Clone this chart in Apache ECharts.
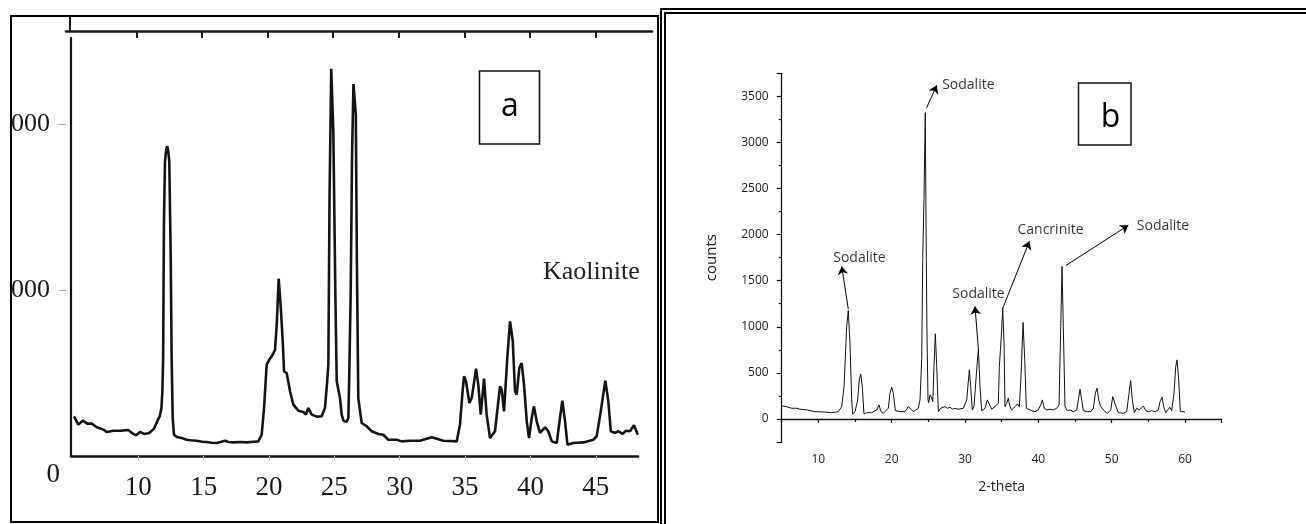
<!DOCTYPE html>
<html><head><meta charset="utf-8">
<script src="https://cdn.jsdelivr.net/npm/echarts@6/dist/echarts.min.js"></script>
<style>
html,body{margin:0;padding:0;width:1306px;height:524px;overflow:hidden;background:#fff;position:relative}
#boxA{position:absolute;left:10px;top:15px;width:649px;height:508px;border:2px solid #000;box-sizing:border-box;overflow:hidden;background:#fff}
#chartA{position:absolute;left:-12px;top:-17px;width:1306px;height:524px}
#boxB{position:absolute;left:660px;top:8px;width:700px;height:600px;border:6px double #000;box-sizing:border-box}
#chartB{position:absolute;left:0;top:0;width:1306px;height:524px}
</style></head><body>
<div id="boxA"><div id="chartA"></div></div>
<div id="boxB"></div>
<div id="chartB"></div>
<script>
// ---------- Panel a : Kaolinite ----------
const kaoTheta = [5.08,5.41,5.75,6.1,6.43,6.82,7.34,7.58,8.09,8.6,9.23,9.62,9.82,10.13,10.44,10.84,11.2,11.45,11.64,11.77,11.84,11.9,11.93,11.96,12.04,12.14,12.22,12.3,12.37,12.44,12.48,12.55,12.63,12.73,12.94,13.32,13.7,14.0,14.47,14.9,15.23,15.6,16.0,16.3,16.63,16.9,17.27,17.8,18.29,18.8,19.18,19.44,19.62,19.82,20.02,20.28,20.46,20.59,20.74,20.9,21.05,21.15,21.35,21.61,21.86,22.24,22.62,22.83,23.01,23.27,23.65,24.03,24.28,24.45,24.54,24.63,24.76,24.92,25.08,25.18,25.43,25.56,25.69,25.94,26.07,26.14,26.25,26.35,26.46,26.55,26.64,26.72,26.83,27.09,27.47,27.86,28.36,28.75,29.13,29.77,30.15,30.79,31.55,32.45,33.34,34.36,34.61,34.82,34.92,35.07,35.33,35.51,35.84,36.01,36.2,36.45,36.65,36.91,37.29,37.67,37.8,37.98,38.23,38.44,38.65,38.82,38.95,39.15,39.33,39.51,39.72,39.89,40.1,40.27,40.48,40.73,41.12,41.37,41.63,42.01,42.26,42.44,42.65,42.83,43.28,44.05,44.81,45.07,45.38,45.73,45.96,46.15,46.47,46.73,47.06,47.31,47.62,47.92,48.22];
const kaoCounts = [239,189,213,195,195,173,159,145,152,152,157,133,125,145,133,139,165,209,240,289,390,590,1000,1400,1775,1850,1866,1830,1775,1400,1193,590,229,128,114,108,98,95,92,86,84,80,78,84,92,84,82,84,82,86,88,128,289,550,580,610,640,791,1068,892,691,510,500,390,309,273,265,249,289,249,237,239,289,450,550,1554,2333,1956,952,450,349,249,213,205,229,490,992,1800,2240,2150,2056,1193,349,199,179,149,133,128,98,98,88,92,92,113,92,88,189,400,480,450,319,349,526,430,249,466,249,108,149,420,400,269,590,811,691,390,369,530,560,430,209,108,229,299,209,139,173,149,88,78,229,333,209,68,78,82,98,119,269,454,329,149,139,149,133,152,149,185,128];
const kaoXLabels = [10,15,20,25,30,35,40,45];
const kaoYLabels = [1000,2000];
const kaoZeroLabel = [0];

// ---------- Panel b : Sodalite ----------
const sodTheta = [5,5.59,6.36,7.05,7.5,8.41,9.54,10.68,11.82,12.72,13.18,13.5,13.86,14.08,14.31,14.55,14.68,15,15.36,15.58,15.77,15.99,16.22,16.59,17.27,17.95,18.27,18.54,18.86,19.54,19.77,20,20.22,20.5,21.13,21.81,22.27,22.5,22.95,23.63,23.86,24.09,24.23,24.4,24.58,24.66,24.72,24.8,24.95,25.05,25.22,25.41,25.6,25.77,25.95,26.14,26.36,26.68,27.27,27.59,27.95,28.32,28.63,29.09,29.77,30.23,30.59,30.77,30.99,31.22,31.59,31.82,32.04,32.27,32.72,33.04,33.31,33.64,34.09,34.54,34.68,34.95,35.14,35.32,35.45,35.68,35.9,36.13,36.36,36.82,37.13,37.4,37.63,37.91,38.14,38.36,38.63,39.09,39.54,39.99,40.32,40.54,40.81,41.14,41.59,42.04,42.5,42.82,43.05,43.23,43.4,43.63,43.95,44.32,44.77,45.23,45.45,45.68,45.91,46.13,46.68,47.14,47.5,47.77,48.0,48.23,48.5,48.77,49.09,49.41,49.87,50.14,50.36,50.59,50.9,51.59,52.05,52.36,52.59,52.81,53.09,53.41,53.77,54.04,54.31,54.64,54.99,55.45,55.91,56.36,56.59,56.86,57.09,57.36,57.64,57.91,58.18,58.5,58.73,58.91,59.14,59.36,59.68,60];
const sodCounts = [141,134,116,116,105,98,79,76,68,79,134,351,1003,1177,823,207,54,79,207,424,489,351,54,68,68,98,152,79,62,116,279,345,279,90,79,79,134,116,79,116,207,641,1728,2380,3323,2400,1728,1000,207,177,261,236,188,568,924,568,79,116,134,116,127,105,116,105,116,207,533,351,98,134,533,758,351,90,116,207,207,105,134,170,568,900,1195,823,134,170,225,134,98,134,163,134,460,1047,641,116,105,90,79,98,152,207,116,98,105,98,116,152,1003,1655,1003,134,90,98,79,98,207,323,207,90,79,79,116,279,333,207,134,152,79,62,98,242,261,134,68,62,79,279,416,207,68,116,98,116,141,90,79,90,79,98,188,236,134,68,98,127,90,279,568,641,424,79,79,76];
const sodXLabels = [10,20,30,40,50,60];
const sodYLabels = [0,500,1000,1500,2000,2500,3000,3500];
const annNames = ['Sodalite','Sodalite','Sodalite','Cancrinite','Sodalite'];
const annFrom  = [[14.08,1192],[24.77,3377],[31.82,758],[35.1,1192],[43.77,1666]];
const annTo    = [[13.18,1655],[26.14,3620],[31.36,1221],[38.77,1927],[52.27,2101]];
const annText  = [[15.6,1747],[30.45,3623],[31.84,1355],[41.66,2047],[57.0,2090]];

const serifA = '"Liberation Serif", "Times New Roman", serif';
const sansB = '"Open Sans", "Noto Sans", sans-serif';
const plain = v => String(v);

// ---------- Chart A ----------
const chartA = echarts.init(document.getElementById('chartA'));
chartA.setOption({
  animation: false,
  grid: [
    {left: 71, top: 38, width: 567, height: 418, outerBoundsMode: 'none', containLabel: false},
    {left: 66, top: 15, width: 586, height: 16, outerBoundsMode: 'none', containLabel: false}
  ],
  xAxis: [
    {gridIndex: 0, type: 'value', min: 4.85, max: 48.23,
     axisLine: {show: true, lineStyle: {color: '#111', width: 2.6}},
     axisTick: {show: true, customValues: kaoXLabels, length: 4, lineStyle: {color: '#bbb', width: 1}},
     axisLabel: {show: true, customValues: kaoXLabels, formatter: plain, fontFamily: serifA, fontSize: 27, color: '#1a1a1a', margin: 18},
     splitLine: {show: false}},
    {gridIndex: 1, type: 'value', min: 4.646, max: 49.28,
     axisLine: {show: true, lineStyle: {color: '#1a1a1a', width: 2.6}},
     axisTick: {show: true, customValues: kaoXLabels, length: 7, lineStyle: {color: '#1a1a1a', width: 2}},
     axisLabel: {show: false}, splitLine: {show: false}}
  ],
  yAxis: [
    {gridIndex: 0, type: 'value', min: 0, max: 2518,
     axisLine: {show: true, lineStyle: {color: '#111', width: 2.2}},
     axisTick: {show: false}, axisLabel: {show: false}, splitLine: {show: false}},
    {gridIndex: 0, type: 'value', min: 0, max: 2518, position: 'left', offset: 5,
     axisLine: {show: false},
     axisTick: {show: true, customValues: kaoYLabels, length: 7, lineStyle: {color: '#aaa', width: 1}},
     axisLabel: {show: true, customValues: kaoYLabels, formatter: plain, fontFamily: serifA, fontSize: 26, color: '#1a1a1a', margin: 16},
     splitLine: {show: false}},
    {gridIndex: 0, type: 'value', min: 0, max: 2518, position: 'left', offset: 5,
     axisLine: {show: false}, axisTick: {show: false},
     axisLabel: {show: true, customValues: kaoZeroLabel, formatter: plain, fontFamily: serifA, fontSize: 27, color: '#1a1a1a', margin: 6, verticalAlign: 'top', padding: [5, 0, 0, 0]},
     splitLine: {show: false}},
    {gridIndex: 1, type: 'value', min: 0, max: 1, offset: -4,
     axisLine: {show: true, lineStyle: {color: '#1a1a1a', width: 2}},
     axisTick: {show: false}, axisLabel: {show: false}, splitLine: {show: false}}
  ],
  series: [
    {type: 'line', xAxisIndex: 0, yAxisIndex: 0, symbol: 'none', showSymbol: false,
     data: kaoTheta.map((t, i) => [t, kaoCounts[i]]),
     lineStyle: {color: '#141414', width: 2.6}}
  ],
  graphic: [
    {type: 'rect', shape: {x: 479.5, y: 71, width: 60, height: 73}, style: {fill: '#fff', stroke: '#111', lineWidth: 1.6}},
    {type: 'text', x: 510, y: 107, style: {text: 'a', fontFamily: sansB, fontSize: 32, fill: '#000', align: 'center', verticalAlign: 'middle'}},
    {type: 'text', x: 543, y: 272, style: {text: 'Kaolinite', fontFamily: serifA, fontSize: 26, fill: '#222', align: 'left', verticalAlign: 'middle'}}
  ]
});

// ---------- Chart B ----------
const chartB = echarts.init(document.getElementById('chartB'));
chartB.setOption({
  animation: false,
  grid: {left: 781.7, top: 73.3, width: 440, height: 368.7, outerBoundsMode: 'none', containLabel: false},
  xAxis: {type: 'value', min: 5, max: 65, splitNumber: 6,
    axisLine: {show: true, lineStyle: {color: '#111', width: 1.3}},
    axisTick: {show: true, length: 4, lineStyle: {color: '#111', width: 1.2}},
    minorTick: {show: true, splitNumber: 2, length: 3, lineStyle: {color: '#111', width: 1.2}},
    axisLabel: {show: true, customValues: sodXLabels, formatter: plain, fontFamily: sansB, fontSize: 12, color: '#222', margin: 12},
    splitLine: {show: false}, minorSplitLine: {show: false},
    name: '2-theta', nameLocation: 'middle', nameGap: 38,
    nameTextStyle: {fontFamily: sansB, fontSize: 14, color: '#222'}},
  yAxis: {type: 'value', min: -250, max: 3750, splitNumber: 8,
    axisLine: {show: true, lineStyle: {color: '#111', width: 1.3}},
    axisTick: {show: true, length: 5, lineStyle: {color: '#111', width: 1.2}},
    minorTick: {show: true, splitNumber: 2, length: 3, lineStyle: {color: '#111', width: 1.2}},
    axisLabel: {show: true, customValues: sodYLabels, formatter: plain, fontFamily: sansB, fontSize: 12, color: '#222', margin: 13},
    splitLine: {show: false}, minorSplitLine: {show: false},
    name: 'counts', nameLocation: 'middle', nameGap: 62, nameRotate: 90,
    nameTextStyle: {fontFamily: sansB, fontSize: 15, color: '#222'}},
  series: [
    {type: 'line', symbol: 'none', showSymbol: false,
     data: sodTheta.map((t, i) => [t, sodCounts[i]]),
     lineStyle: {color: '#111', width: 1},
     markLine: {silent: true, animation: false, symbol: ['none', 'arrow'], symbolSize: 8,
       lineStyle: {color: '#000', width: 1, type: 'solid'}, label: {show: false},
       emphasis: {disabled: true},
       data: annFrom.map((f, i) => [{coord: f}, {coord: annTo[i]}])}},
    {type: 'scatter', symbolSize: 1, silent: true,
     data: annText.map((p, i) => ({value: p, name: annNames[i]})),
     itemStyle: {color: 'rgba(0,0,0,0)'},
     labelLayout: {hideOverlap: false},
     label: {show: true, position: 'inside', formatter: p => p.name, color: '#000', fontFamily: sansB, fontSize: 14}}
  ],
  graphic: [
    {type: 'rect', shape: {x: 1078.5, y: 83, width: 52.5, height: 62}, style: {fill: '#fff', stroke: '#111', lineWidth: 1.5}},
    {type: 'text', x: 1110.5, y: 118, style: {text: 'b', fontFamily: sansB, fontSize: 32, fill: '#000', align: 'center', verticalAlign: 'middle'}}
  ]
});
</script></body></html>
